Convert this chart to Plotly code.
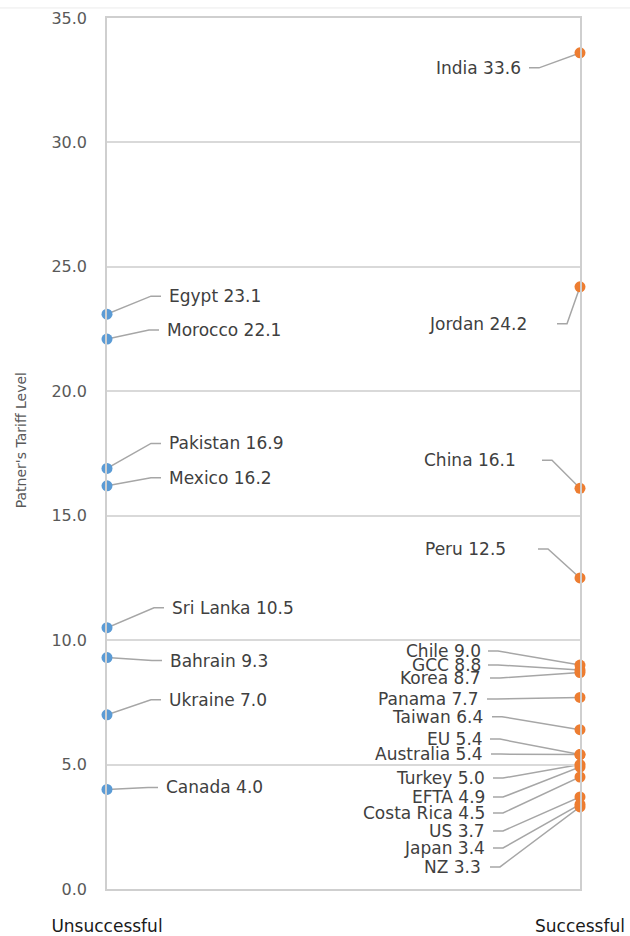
import plotly.graph_objects as go

# ---------------- data ----------------
categories = ["Unsuccessful", "Successful"]

unsucc_names = ["Egypt", "Morocco", "Pakistan", "Mexico", "Sri Lanka", "Bahrain", "Ukraine", "Canada"]
unsucc_vals = [23.1, 22.1, 16.9, 16.2, 10.5, 9.3, 7.0, 4.0]

succ_names = ["India", "Jordan", "China", "Peru", "Chile", "GCC", "Korea", "Panama", "Taiwan",
              "EU", "Australia", "Turkey", "EFTA", "Costa Rica", "US", "Japan", "NZ"]
succ_vals = [33.6, 24.2, 16.1, 12.5, 9.0, 8.8, 8.7, 7.7, 6.4, 5.4, 5.4, 5.0, 4.9, 4.5, 3.7, 3.4, 3.3]

y_ticks = [0, 5, 10, 15, 20, 25, 30, 35]
y_title = "Patner's Tariff Level"

# ---------------- label layout (pixel offsets from the dot: text edge dx, text centre dy (down +), gap) ----
left_label_pos = {
    "Egypt": (61, -18, 7), "Morocco": (59, -9, 7), "Pakistan": (61, -25, 7), "Mexico": (61, -8, 7),
    "Sri Lanka": (64, -20, 7), "Bahrain": (62, 3, 7), "Ukraine": (61, -15, 7), "Canada": (58, -2, 7),
}
right_label_pos = {
    "India": (-58, 15, 7), "Jordan": (-52, 37, 29), "China": (-63, -28, 25), "Peru": (-73, -29, 31),
    "Chile": (-98, -14, 6), "GCC": (-98, -5, 6), "Korea": (-98, 5.5, 8), "Panama": (-100, 1.5, 7),
    "Taiwan": (-96, -13, 8), "EU": (-96, -15.5, 6), "Australia": (-96, -0.5, 7), "Turkey": (-94, 13.5, 7),
    "EFTA": (-94, 30, 7), "Costa Rica": (-94, 36, 7), "US": (-94, 34, 7), "Japan": (-94, 43.6, 7),
    "NZ": (-98, 60, 8),
}

FONT = "DejaVu Sans"
LABEL_COLOR = "#404040"
LEADER_COLOR = "#a6a6a6"
BLUE = "#5B9BD5"
ORANGE = "#ED7D31"
SEG = 10

fig = go.Figure()
fig.add_trace(go.Scatter(x=[0] * len(unsucc_vals), y=unsucc_vals, mode="markers",
                         marker=dict(color=BLUE, size=11), cliponaxis=False,
                         text=unsucc_names, hoverinfo="text+y", showlegend=False))
fig.add_trace(go.Scatter(x=[1] * len(succ_vals), y=succ_vals, mode="markers",
                         marker=dict(color=ORANGE, size=11), cliponaxis=False,
                         text=succ_names, hoverinfo="text+y", showlegend=False))

annotations = []
shapes = []


def add_label(xcat, name, val, pos, side):
    dx, dy, gap = pos
    text = f"{name} {val:.1f}"
    if side == "left":
        h_end = dx - gap
        elbow = h_end - SEG
        xanchor = "left"
    else:
        h_end = dx + gap
        elbow = h_end + SEG
        xanchor = "right"
    annotations.append(dict(x=xcat, y=val, xref="x", yref="y", text=text, showarrow=False,
                            xanchor=xanchor, yanchor="middle", xshift=dx, yshift=-dy,
                            borderpad=0, font=dict(family=FONT, size=17, color=LABEL_COLOR)))
    path = f"M 0,0 L {elbow},{-dy} L {h_end},{-dy}"
    shapes.append(dict(type="path", xref="x", yref="y", xsizemode="pixel", ysizemode="pixel",
                       xanchor=xcat, yanchor=val, path=path,
                       line=dict(color=LEADER_COLOR, width=1.5), layer="below"))


for n, v in zip(unsucc_names, unsucc_vals):
    add_label(0, n, v, left_label_pos[n], "left")
for n, v in zip(succ_names, succ_vals):
    add_label(1, n, v, right_label_pos[n], "right")

# y-axis title, placed as in the reference (slightly above the plot centre)
annotations.append(dict(x=-0.18, y=0.515, xref="paper", yref="paper", text=y_title, textangle=-90,
                        showarrow=False, xanchor="center", yanchor="middle",
                        font=dict(family=FONT, size=14, color="#595959")))

# faint page rule at the very top
shapes.append(dict(type="line", xref="paper", yref="paper", x0=-0.23, x1=1.11, y0=1.0115, y1=1.0115,
                   line=dict(color="#ebebeb", width=1)))

fig.update_layout(
    width=630, height=936,
    margin=dict(l=107, r=50, t=18, b=47, autoexpand=False),
    paper_bgcolor="white", plot_bgcolor="white",
    annotations=annotations, shapes=shapes,
    xaxis=dict(range=[0, 1], tickvals=[0, 1], ticktext=categories, showgrid=False, zeroline=False,
               showline=True, mirror=True, linecolor="#cfcfcf", linewidth=1.5, ticks="",
               ticklabelstandoff=21, tickfont=dict(family=FONT, size=17, color="#1a1a1a"),
               fixedrange=True),
    yaxis=dict(range=[0, 35], tickvals=y_ticks, tickformat=".1f", showgrid=True, gridcolor="#d9d9d9",
               gridwidth=1.5, zeroline=False, showline=True, mirror=True, linecolor="#cfcfcf",
               linewidth=1.5, ticks="", ticklabelstandoff=15,
               tickfont=dict(family=FONT, size=16, color="#595959"),
               fixedrange=True),
)

fig.write_html("out.html")
